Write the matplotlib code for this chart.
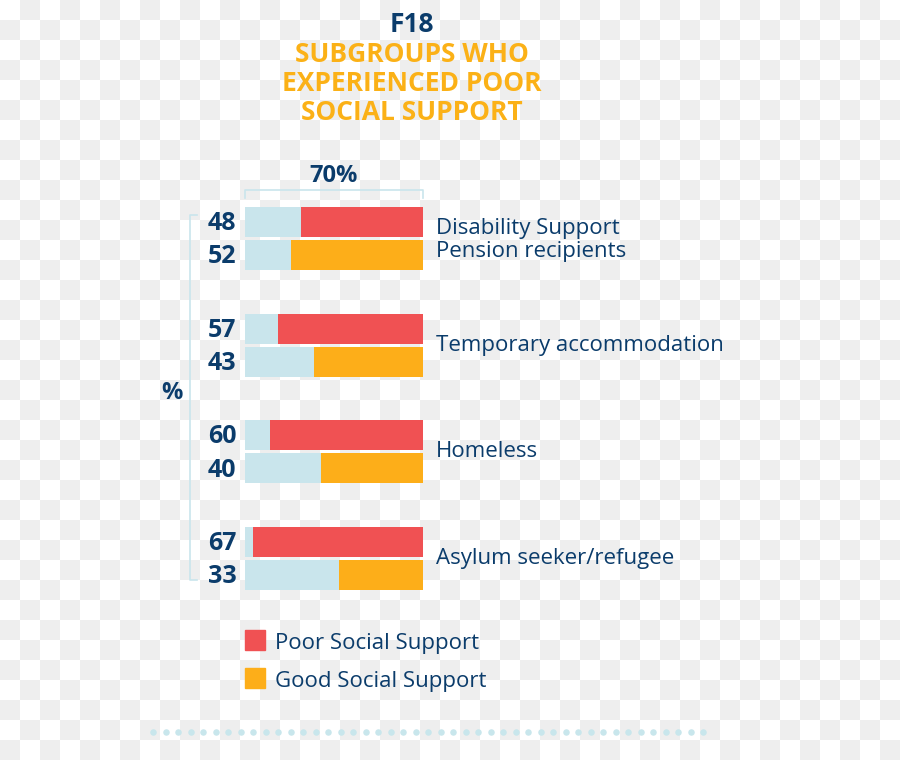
import matplotlib.pyplot as plt
import numpy as np
from matplotlib.colors import ListedColormap

plt.rcParams['font.family'] = ['Open Sans', 'DejaVu Sans']

# data
categories = [["Disability Support", "Pension recipients"],
              ["Temporary accommodation"],
              ["Homeless"],
              ["Asylum seeker/refugee"]]
poor_support = [48, 57, 60, 67]
good_support = [52, 43, 40, 33]
scale_max = 70

RED = "#f05153"
ORANGE = "#fdae19"
TRACK = "#c9e5ec"
NAVY = "#0b3c6b"
GOLD = "#fbb117"

W, H = 900, 760
fig = plt.figure(figsize=(W / 100, H / 100), dpi=100)

# transparent-looking checker background
bg = fig.add_axes([0, 0, 1, 1], zorder=0)
yy, xx = np.mgrid[0:H // 20 + 1, 0:W // 20 + 1]
bg.imshow((xx + yy) % 2, cmap=ListedColormap(["#ffffff", "#eeeeee"]),
          extent=[0, (W // 20 + 1) * 20, (H // 20 + 1) * 20, 0],
          interpolation="nearest", aspect="auto")
bg.set_xlim(0, W)
bg.set_ylim(H, 0)
bg.axis("off")

# dotted divider
dots_x = np.linspace(153, 703, 45)
bg.scatter(dots_x, np.full_like(dots_x, 732), s=22, color="#c8e6ec", lw=0)

# titles
fig.text(412 / W, 1 - 25 / H, "F18", ha="center", va="center",
         fontsize=19, fontweight="bold", color=NAVY)
for i, line in enumerate(["SUBGROUPS WHO", "EXPERIENCED POOR", "SOCIAL SUPPORT"]):
    fig.text(412 / W, 1 - (54 + 29.5 * i) / H, line, ha="center", va="center",
             fontsize=19, fontweight="bold", color=GOLD)

# bar axes, y in row units
group_gap = 3.2
top0, bot0 = 205.3, 591.6
ax = fig.add_axes([245 / W, 1 - bot0 / H, 178 / W, (bot0 - top0) / H], zorder=1)
ax.set_xlim(0, scale_max)
ax.set_ylim(11.1, -0.5)
ax.axis("off")

bh = 0.9
for g in range(len(poor_support)):
    yp = g * group_gap
    yg = yp + 1
    for y, v, c in [(yp, poor_support[g], RED), (yg, good_support[g], ORANGE)]:
        ax.barh(y, scale_max, height=bh, color=TRACK, left=0)
        ax.barh(y, v, height=bh, left=scale_max - v, color=c)
        ax.text(-3.4, y + 0.05, str(v), ha="right", va="center", fontsize=18,
                fontweight="bold", color=NAVY, clip_on=False)
    ax.text(75.1, (yp + yg) / 2 - 0.07, "\n".join(categories[g]), ha="left",
            va="center_baseline", fontsize=16, color=NAVY, clip_on=False,
            linespacing=1.12)

# top scale bracket
ax.plot([0, 0, scale_max, scale_max], [-0.72, -0.96, -0.96, -0.72],
        color=TRACK, lw=1.2, clip_on=False)
ax.text(scale_max / 2, -1.38, f"{scale_max}%", ha="center", va="center",
        fontsize=17, fontweight="bold", color=NAVY, clip_on=False)

# left bracket
ax.plot([-18.9, -21.6, -21.6, -18.9], [-0.21, -0.21, 10.75, 10.75],
        color=TRACK, lw=1.2, clip_on=False)
ax.text(-28.7, 5.14, "%", ha="center", va="center", fontsize=17,
        fontweight="bold", color=NAVY, clip_on=False)

# legend
for i, (lab, c) in enumerate([("Poor Social Support", RED), ("Good Social Support", ORANGE)]):
    yc = 640 + 37.5 * i
    bg.add_patch(plt.Rectangle((245, yc - 10), 20, 20, color=c))
    bg.text(275, yc + 4, lab, ha="left", va="center", fontsize=16, color=NAVY)

fig.savefig("out.png", dpi=100)
